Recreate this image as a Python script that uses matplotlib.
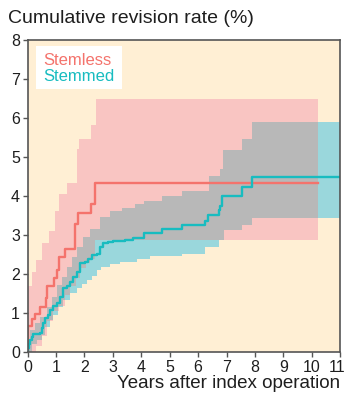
import numpy as np
import matplotlib
matplotlib.use("Agg")
import matplotlib.pyplot as plt
import matplotlib.transforms as mtrans
from matplotlib.patches import Rectangle

plt.rcParams['font.family'] = ['Liberation Sans', 'DejaVu Sans']

# ---- data ----
# Stemless estimate
t_sl = [0, 0.02, 0.16, 0.26, 0.43, 0.63, 0.68, 0.94, 1.02, 1.10, 1.32, 1.67, 1.79, 2.23, 2.37, 10.21]
v_sl = [0, 0.65, 0.83, 0.98, 1.15, 1.37, 1.68, 1.88, 2.09, 2.44, 2.65, 3.29, 3.55, 3.80, 4.33, 4.33]
# Stemless CI upper
t_slu = [0, 0.15, 0.30, 0.52, 0.76, 0.96, 1.10, 1.37, 1.73, 1.82, 2.22, 2.41, 10.21]
v_slu = [1.70, 2.05, 2.35, 2.80, 3.10, 3.62, 4.06, 4.32, 5.21, 5.47, 5.81, 6.50, 6.50]
# Stemless CI lower
t_sll = [0, 0.30, 0.50, 0.70, 0.90, 1.10, 1.30, 1.50, 1.70, 1.85, 2.05, 2.20, 2.37, 10.21]
v_sll = [0, 0.15, 0.40, 0.80, 1.05, 1.18, 1.45, 1.70, 1.90, 2.15, 2.28, 2.38, 2.86, 2.86]

# Stemmed estimate
t_st = [0, 0.02, 0.05, 0.08, 0.14, 0.20, 0.43, 0.49, 0.55, 0.61, 0.73, 0.79, 0.88, 1.02,
        1.14, 1.26, 1.37, 1.49, 1.61, 1.73, 1.84, 2.02, 2.14, 2.26, 2.43, 2.55, 2.67, 2.84,
        3.02, 3.43, 3.72, 4.08, 4.73, 5.43, 6.25, 6.34, 6.72, 6.78, 6.84, 7.55, 7.90, 11.0]
v_st = [0, 0.10, 0.20, 0.30, 0.38, 0.45, 0.48, 0.60, 0.73, 0.86, 0.94, 1.07, 1.17, 1.24,
        1.41, 1.63, 1.68, 1.80, 1.91, 2.05, 2.27, 2.31, 2.37, 2.48, 2.52, 2.69, 2.78, 2.82,
        2.85, 2.88, 2.93, 3.04, 3.14, 3.25, 3.35, 3.50, 3.63, 3.74, 3.99, 4.23, 4.49, 4.49]
# Stemmed CI upper
t_stu = [0, 0.08, 0.26, 0.43, 0.67, 0.85, 1.02, 1.20, 1.37, 1.55, 1.73, 1.96, 2.20, 2.55,
         2.90, 3.32, 3.78, 4.08, 4.73, 5.43, 6.40, 6.78, 6.88, 7.55, 7.90, 11.0]
v_stu = [0.30, 0.56, 0.73, 0.90, 1.15, 1.41, 1.71, 1.92, 2.18, 2.44, 2.69, 2.95, 3.15, 3.45,
         3.60, 3.70, 3.80, 3.87, 3.99, 4.13, 4.50, 4.70, 5.17, 5.47, 5.90, 5.90]
# Stemmed CI lower
t_stl = [0, 0.14, 0.32, 0.49, 0.61, 0.79, 0.91, 1.08, 1.26, 1.49, 1.73, 1.90, 2.08, 2.26,
         2.43, 2.60, 2.90, 3.26, 3.85, 4.32, 5.43, 6.25, 6.72, 6.90, 7.55, 7.90, 11.0]
v_stl = [0, 0.21, 0.30, 0.43, 0.64, 0.81, 0.94, 1.15, 1.33, 1.50, 1.63, 1.75, 1.84, 1.94,
         2.09, 2.18, 2.25, 2.31, 2.39, 2.45, 2.52, 2.69, 2.88, 3.12, 3.25, 3.43, 3.43]

x_ticks = list(range(0, 12))
y_ticks = list(range(0, 9))
labels = ["Stemless", "Stemmed"]

# ---- colours ----
bg = "#FFEFD4"
c_red = "#F4736C"
c_cyan = "#18BCC0"
f_pink = "#F9C5C2"
f_cyan = "#9AD7DC"
f_gray = "#B8B8B8"
txt = "#1E1E1E"


def stepval(t, v, x):
    t = np.asarray(t, float)
    v = np.asarray(v, float)
    idx = np.clip(np.searchsorted(t, x, side='right') - 1, 0, len(v) - 1)
    return v[idx]


grid = np.unique(np.concatenate([t_slu, t_sll, t_stu, t_stl]))
red_end = t_slu[-1]
gr = grid[grid <= red_end]

r_lo = stepval(t_sll, v_sll, gr)
r_up = stepval(t_slu, v_slu, gr)
c_lo = stepval(t_stl, v_stl, grid)
c_up = stepval(t_stu, v_stu, grid)

ov_lo = np.maximum(r_lo, c_lo[:len(gr)])
ov_up = np.minimum(r_up, c_up[:len(gr)])
ov_up = np.maximum(ov_up, ov_lo)

fig = plt.figure(figsize=(3.45, 3.93), dpi=100)
ax = fig.add_axes([0.080, 0.105, 0.906, 0.793])
ax.set_facecolor(bg)

ax.fill_between(gr, r_lo, r_up, step='post', color=f_pink, lw=0)
ax.fill_between(grid, c_lo, c_up, step='post', color=f_cyan, lw=0)
ax.fill_between(gr, ov_lo, ov_up, step='post', color=f_gray, lw=0)

ax.step(t_sl, v_sl, where='post', color=c_red, lw=1.7)
ax.step(t_st, v_st, where='post', color=c_cyan, lw=1.7)

ax.set_xlim(0, 11)
ax.set_ylim(0, 8)
ax.set_xticks(x_ticks)
ax.set_yticks(y_ticks)
ax.tick_params(axis='both', labelsize=11.5, length=3.5, width=1, color='#555555',
               labelcolor=txt)
ax.tick_params(axis='x', pad=2.5)
ax.tick_params(axis='y', pad=2)
for s in ax.spines.values():
    s.set_color('#555555')
    s.set_linewidth(1.2)

# nudge the last x tick label so it stays inside the figure
last = ax.get_xticklabels()[-1]
last.set_transform(last.get_transform() +
                   mtrans.ScaledTranslation(-3 / 100, 0, fig.dpi_scale_trans))

fig.text(0.986, 0.025, "Years after index operation", fontsize=13.5, color=txt,
         ha='right', va='center')
fig.text(0.022, 0.954, "Cumulative revision rate (%)", fontsize=14,
         color=txt, ha='left', va='center')

# legend box
ax.add_patch(Rectangle((0.027, 0.844), 0.275, 0.136, transform=ax.transAxes,
                       facecolor='white', edgecolor='none', zorder=5))
ax.text(0.049, 0.934, labels[0], transform=ax.transAxes, fontsize=12,
        color=c_red, va='center', ha='left', zorder=6)
ax.text(0.049, 0.884, labels[1], transform=ax.transAxes, fontsize=12,
        color=c_cyan, va='center', ha='left', zorder=6)

fig.savefig("out.png", dpi=100)
